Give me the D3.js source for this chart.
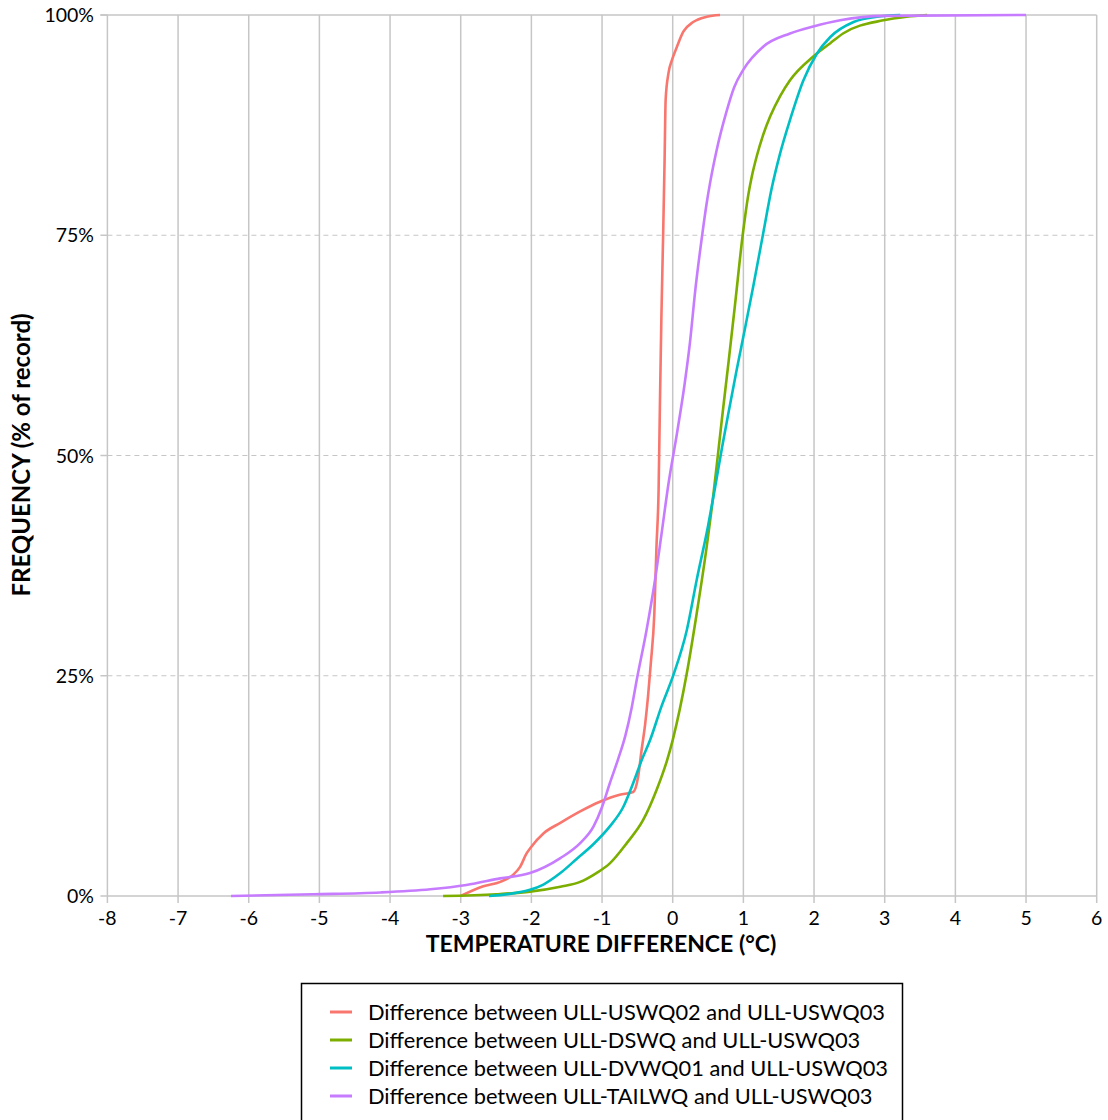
<!DOCTYPE html>
<html><head><meta charset="utf-8">
<script src="https://cdn.jsdelivr.net/npm/d3@7"></script>
<style>body{margin:0;background:#fff}svg{display:block}text{font-family:Lato,"Open Sans",sans-serif;fill:#000}</style>
</head><body><svg id="c" width="1108" height="1120"></svg>
<script>
const seriesNames = [
  "Difference between ULL-USWQ02 and ULL-USWQ03",
  "Difference between ULL-DSWQ and ULL-USWQ03",
  "Difference between ULL-DVWQ01 and ULL-USWQ03",
  "Difference between ULL-TAILWQ and ULL-USWQ03"
];
const seriesColors = ["#F8766D", "#7CAE00", "#00BFC4", "#C77CFF"];
const xTicks = [-8,-7,-6,-5,-4,-3,-2,-1,0,1,2,3,4,5,6];
const yTicks = [0,25,50,75,100];

const uswq02X = [-3.0,-2.68,-2.44,-2.26,-2.16,-2.07,-2.0,-1.83,-1.59,-1.31,-1.03,-0.75,-0.56,-0.49,-0.44,-0.39,-0.35,-0.31,-0.26,-0.23,-0.20,-0.18,-0.16,-0.135,-0.115,-0.10,-0.06,-0.01,0.06,0.15,0.29,0.48,0.67];
const uswq02Y = [0,1.1,1.6,2.4,3.3,4.8,5.6,7.1,8.3,9.6,10.7,11.5,11.8,13.5,16.6,19.5,22.6,26.4,32.1,39.6,46.0,56.3,65.8,75.2,83.5,90.4,93.4,94.9,96.4,98.1,99.2,99.8,100];

const dswqX = [-3.25,-2.5,-2.02,-1.59,-1.31,-1.08,-0.89,-0.65,-0.42,-0.23,-0.08,0.0,0.20,0.34,0.48,0.57,0.63,0.70,0.79,0.88,0.99,1.07,1.12,1.19,1.28,1.38,1.52,1.66,1.99,2.23,2.41,2.98,3.31,3.6];
const dswqY = [0,0.2,0.5,1.06,1.6,2.6,3.7,6.0,8.6,12.0,15.4,17.7,25.3,32.1,39.6,45.2,49.4,54.4,60.6,67.0,75.0,79.6,81.7,84.0,86.4,88.5,90.8,92.6,95.3,96.8,97.9,99.4,99.8,100];

const dvwq01X = [-2.6,-2.02,-1.83,-1.59,-1.36,-1.12,-0.89,-0.70,-0.56,-0.44,-0.32,-0.16,0.01,0.20,0.34,0.50,0.60,0.70,0.80,0.90,1.0,1.14,1.28,1.40,1.52,1.66,1.85,2.04,2.23,2.56,2.89,3.22];
const dvwq01Y = [0,0.7,1.3,2.6,4.2,5.9,7.9,10.1,12.8,15.4,17.7,21.5,25.1,30.2,35.9,42.0,46.4,51.0,55.3,59.5,63.5,69.2,75.2,80.3,84.3,88.1,92.6,95.6,97.5,99.2,99.8,100];

const tailwqX = [-6.25,-5.09,-4.14,-3.43,-2.92,-2.44,-2.02,-1.59,-1.31,-1.12,-1.0,-0.89,-0.77,-0.67,-0.58,-0.51,-0.37,-0.25,-0.16,-0.06,0.06,0.17,0.245,0.32,0.42,0.48,0.53,0.62,0.76,0.87,1.0,1.28,1.66,1.99,2.37,2.98,5.0];
const tailwqY = [0,0.2,0.4,0.76,1.25,2.0,2.6,4.3,6.0,7.9,10.1,12.8,15.6,18.2,21.4,24.5,30.2,35.9,41.0,46.8,52.5,58.2,62.9,68.8,75.2,78.6,81.0,84.6,89.0,91.8,93.8,96.4,97.9,98.7,99.4,99.9,100];

const seriesX = [uswq02X, dswqX, dvwq01X, tailwqX];
const seriesY = [uswq02Y, dswqY, dvwq01Y, tailwqY];

const svg = d3.select("#c");
const L = 107.4, R = 1096.7, T = 15, B = 896;
const x = d3.scaleLinear().domain([-8, 6]).range([L, R]);
const y = d3.scaleLinear().domain([0, 100]).range([B, T]);
const grid = "#c6c6c6";

svg.append("g").selectAll("line").data(xTicks).join("line")
  .attr("x1", d => x(d)).attr("x2", d => x(d)).attr("y1", T).attr("y2", B + 7)
  .attr("stroke", grid).attr("stroke-width", 1.5);
svg.append("g").selectAll("line").data(yTicks.filter(d => d > 0 && d < 100)).join("line")
  .attr("x1", L).attr("x2", R).attr("y1", d => y(d)).attr("y2", d => y(d))
  .attr("stroke", grid).attr("stroke-width", 1.2).attr("stroke-dasharray", "5,4");
svg.append("line").attr("x1", L - 7).attr("x2", R).attr("y1", y(100)).attr("y2", y(100))
  .attr("stroke", grid).attr("stroke-width", 1.5);
svg.append("g").selectAll("line").data(yTicks).join("line")
  .attr("x1", L - 7).attr("x2", L).attr("y1", d => y(d)).attr("y2", d => y(d))
  .attr("stroke", grid).attr("stroke-width", 1.5);
svg.append("line").attr("x1", L).attr("x2", R).attr("y1", B).attr("y2", B)
  .attr("stroke", grid).attr("stroke-width", 1.5);

svg.append("g").selectAll("text").data(xTicks).join("text")
  .attr("x", d => x(d)).attr("y", 925).attr("text-anchor", "middle")
  .attr("font-size", 19.5).text(d => d);
svg.append("g").selectAll("text").data(yTicks).join("text")
  .attr("x", 94).attr("y", d => y(d) + 7).attr("text-anchor", "end")
  .attr("font-size", 19.5).text(d => d + "%");

svg.append("text").attr("x", 601).attr("y", 952).attr("text-anchor", "middle")
  .attr("font-size", 23).attr("font-weight", "bold").text("TEMPERATURE DIFFERENCE (°C)");
svg.append("text").attr("transform", "translate(30,455) rotate(-90)").attr("text-anchor", "middle")
  .attr("font-size", 24).attr("font-weight", "bold").text("FREQUENCY (% of record)");

const line = d3.line().x(d => x(d[0])).y(d => y(d[1])).curve(d3.curveMonotoneX);
seriesX.forEach((xs, i) => {
  const pts = xs.map((v, j) => [v, seriesY[i][j]]);
  svg.append("path").datum(pts).attr("d", line).attr("fill", "none")
    .attr("stroke", seriesColors[i]).attr("stroke-width", 2.6)
    .attr("stroke-linejoin", "round");
});

const lg = svg.append("g");
lg.append("rect").attr("x", 301.5).attr("y", 983.5).attr("width", 601).attr("height", 150)
  .attr("fill", "#fff").attr("stroke", "#000").attr("stroke-width", 1.5);
seriesNames.forEach((n, i) => {
  const yy = 1012 + i * 28;
  lg.append("line").attr("x1", 330).attr("x2", 352).attr("y1", yy).attr("y2", yy)
    .attr("stroke", seriesColors[i]).attr("stroke-width", 3);
  lg.append("text").attr("x", 368).attr("y", yy + 7.5).attr("font-size", 21.8).text(n);
});
</script></body></html>
